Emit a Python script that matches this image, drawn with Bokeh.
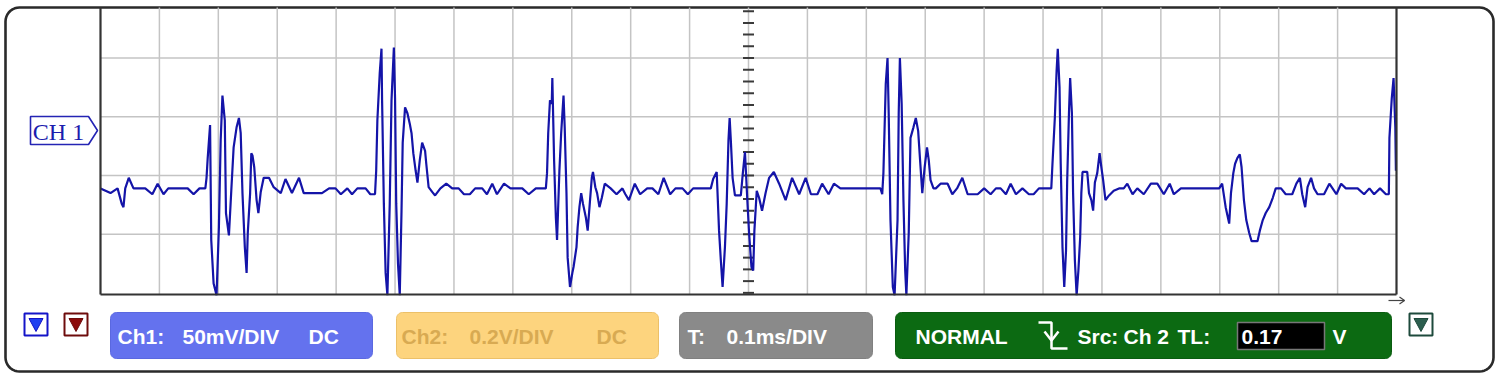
import numpy as np
from bokeh.plotting import figure
from bokeh.models import Range1d
from bokeh.core.properties import value
from bokeh.embed import file_html
from bokeh.resources import INLINE

# ---------------- data: CH1 trace, time in microseconds, voltage in mV ----------------
lead_t = [0, 17, 29, 36, 39, 42, 48, 56, 76, 88, 97, 107, 115, 148, 158, 168, 178]
lead_mv = [-11, -15, -11, -24, -27, -11, -2, -11, -11, -16, -7, -16, -11, -11, -16, -11, -11]

burst1_t = [180, 182, 186, 188, 192, 197, 201, 204, 207, 211, 213, 218, 222, 226, 231, 235, 238, 241,
            245, 248, 250, 254, 256, 258, 261, 265, 268, 272, 277, 286, 294, 306, 314, 325, 337, 345, 362]
burst1_mv = [-2, 15, 43, -55, -92, -102, -44, 30, 68, 47, -32, -51, -13, 24, 41, 49, 36, -15,
             -61, -83, -49, -15, 19, 17, 7, -21, -32, -14, -2, -2, -10, -15, -3, -15, -2, -15, -15]

quiet1_t = [376, 388, 399, 408, 419, 427, 436, 450, 458, 466]
quiet1_mv = [-15, -11, -11, -16, -11, -16, -11, -11, -16, -16]

burst2_t = [468, 470, 474, 477, 478, 481, 484, 487, 491, 494, 498, 500, 502, 505, 508, 511, 513, 517,
            521, 525, 528, 531, 535, 538, 542, 546, 551, 553, 557, 563, 568, 577, 587, 597, 608, 617,
            627, 636, 648, 656, 665, 673, 685, 696, 716, 727, 739, 756]
burst2_mv = [4, 47, 87, 108, 64, -24, -83, -102, -24, 64, 109, 66, -24, -75, -102, -30, 28, 58,
             53, 44, 36, 19, 4, -6, 13, 28, 21, 10, -10, -14, -17, -11, -7, -11, -11, -16,
             -16, -11, -11, -16, -7, -16, -7, -11, -11, -16, -11, -11]

burst3_t = [758, 760, 763, 766, 767, 770, 773, 775, 779, 782, 786, 788, 791, 793, 797, 801, 803, 808,
            810, 813, 816, 819, 824, 827, 831, 834, 836, 840, 843, 847, 851, 856, 866, 876, 886, 891,
            897, 907, 916, 928, 937, 947, 956, 967, 976, 988, 997, 1006, 1036]
burst3_mv = [2, 36, 64, 61, 83, 13, -36, -55, 4, 36, 68, 41, -15, -70, -95, -83, -78, -61,
             -44, -27, -15, -24, -36, -47, -21, -2, 3, -10, -15, -27, -19, -7, -11, -16, -11, -16,
             -21, -7, -16, -11, -11, -16, -2, -16, -11, -11, -16, -11, -11]

burst4_t = [1040, 1046, 1050, 1053, 1056, 1060, 1063, 1066, 1068, 1070, 1073, 1077, 1087, 1090, 1094,
            1098, 1101, 1105, 1108, 1110, 1114, 1118, 1123, 1129, 1135, 1143, 1152, 1163, 1174, 1186,
            1197, 1206, 1217, 1225, 1236, 1245, 1256, 1324, 1327]
burst4_mv = [-3, 3, -47, -72, -95, -61, -24, 30, 49, 30, -2, -17, -17, 0, 20,
             -21, -49, -78, -81, -47, -13, -19, -30, -15, -2, 3, -7, -21, -2, -16,
             -2, -16, -16, -7, -16, -7, -11, -11, -16]

burst5_t = [1329, 1333, 1336, 1338, 1341, 1345, 1348, 1353, 1355, 1357, 1360, 1363, 1366, 1368, 1372,
            1375, 1380, 1384, 1388, 1391, 1395, 1399, 1403, 1406, 1409, 1414, 1418, 1426, 1438, 1446,
            1454, 1463, 1472, 1489, 1500, 1511, 1520, 1528, 1537, 1545, 1554, 1565, 1576, 1584, 1593, 1614]
burst5_mv = [2, 78, 100, 53, -38, -95, -102, -38, 53, 100, 61, -21, -81, -102, -49,
             32, 41, 49, 38, 15, -15, 7, 24, 13, -4, -11, -11, -7, -7, -16,
             -11, -2, -16, -16, -11, -16, -11, -11, -16, -7, -16, -11, -16, -16, -11, -11]

burst6_t = [1616, 1620, 1623, 1625, 1628, 1630, 1633, 1636, 1639, 1641, 1644, 1646, 1649, 1651, 1654,
            1657, 1660, 1663, 1665, 1667, 1675, 1678, 1682, 1685, 1688, 1692, 1696, 1699, 1702, 1706,
            1712, 1720, 1729, 1737, 1743, 1752, 1760, 1771, 1783, 1794, 1805, 1815, 1822, 1834, 1899]
burst6_mv = [10, 49, 89, 108, 75, 10, -61, -95, -64, -4, 53, 83, 53, -15, -72,
             -102, -81, -53, -15, 3, 3, -15, -21, -30, -6, 2, 19, 7, -4, -21,
             -17, -13, -11, -11, -7, -16, -11, -16, -7, -7, -16, -7, -16, -11, -11]

tail_t = [1904, 1910, 1916, 1919, 1923, 1926, 1930, 1934, 1937, 1941, 1945, 1950, 1954, 1964, 1968,
          1973, 1978, 1984, 1990, 1995, 2004, 2012, 2023, 2030, 2036, 2040, 2045, 2049, 2055, 2060,
          2066, 2077, 2086, 2094, 2098, 2106, 2114, 2134, 2145, 2154, 2162, 2172, 2182, 2187, 2188,
          2192, 2195, 2198, 2199]
tail_mv = [-7, -27, -41, -15, 2, 10, 15, 18, 7, -21, -38, -49, -56, -56, -47,
           -38, -32, -27, -19, -11, -11, -16, -16, -7, -2, -16, -27, -10, -2, -11,
           -16, -16, -7, -13, -16, -7, -11, -11, -16, -11, -16, -11, -16, -16, 32,
           66, 83, 41, 4]

t_us = lead_t + burst1_t + quiet1_t + burst2_t + burst3_t + burst4_t + burst5_t + burst6_t + tail_t
v_mv = lead_mv + burst1_mv + quiet1_mv + burst2_mv + burst3_mv + burst4_mv + burst5_mv + burst6_mv + tail_mv

# screen settings
TIME_PER_DIV = 100     # 0.1 ms/DIV
N_XDIV = 22
MV_PER_DIV = 50        # 50 mV/DIV
V_TOP = 143.1
V_BOT = -101.4
grid_t = [TIME_PER_DIV * i for i in range(1, N_XDIV)]
grid_mv = [-50, 0, 50, 100]
minor_mv = list(range(-100, 141, 10))

# ---------------- layout (canvas pixels) ----------------
W, H = 1500, 378
FL, FR, FT, FB = 100, 1396, 7, 294
T_SPAN = TIME_PER_DIV * N_XDIV
sx = T_SPAN / (FR - FL)
sy = (V_TOP - V_BOT) / (FB - FT)

p = figure(width=W, height=H, x_range=Range1d(0, W), y_range=Range1d(H, 0),
           output_backend="svg", toolbar_location=None, min_border=0,
           x_axis_type=None, y_axis_type=None, outline_line_color=None,
           background_fill_color="white", border_fill_color="white")
p.extra_x_ranges = {"t": Range1d(-FL * sx, T_SPAN + (W - FR) * sx)}
p.extra_y_ranges = {"mv": Range1d(V_BOT - (H - FB) * sy, V_TOP + FT * sy)}
p.grid.visible = False


def rrect(x0, y0, x1, y1, r, n=10):
    xs, ys = [], []
    for cx, cy, a0, a1 in [(x1 - r, y0 + r, -90, 0), (x1 - r, y1 - r, 0, 90),
                           (x0 + r, y1 - r, 90, 180), (x0 + r, y0 + r, 180, 270)]:
        a = np.radians(np.linspace(a0, a1, n))
        xs += list(cx + r * np.cos(a))
        ys += list(cy + r * np.sin(a))
    return xs, ys


# outer rounded frame
ox, oy = rrect(5, 7, 1493, 371, 14)
p.patch(ox, oy, fill_color="white", line_color="#2a2a2a", line_width=2.6)

D = dict(x_range_name="t", y_range_name="mv")
# grid
p.segment(x0=grid_t, x1=grid_t, y0=[V_BOT] * len(grid_t), y1=[V_TOP] * len(grid_t),
          line_color="#c4c4c4", line_width=1.5, **D)
p.segment(x0=[0] * len(grid_mv), x1=[T_SPAN] * len(grid_mv), y0=grid_mv, y1=grid_mv,
          line_color="#c4c4c4", line_width=1.5, **D)
# centre minor ticks
tc = T_SPAN / 2
dt = 5.5 * sx
p.segment(x0=[tc - dt] * len(minor_mv), x1=[tc + dt] * len(minor_mv), y0=minor_mv, y1=minor_mv,
          line_color="#3a3a3a", line_width=2, **D)

# trace
p.line(t_us, v_mv, line_color="#1414a8", line_width=2.2, **D)

# screen borders
p.segment(x0=[0, T_SPAN, 0], x1=[0, T_SPAN, T_SPAN], y0=[V_BOT, V_BOT, V_BOT],
          y1=[V_TOP, V_TOP, V_BOT], line_color="#333333", line_width=2.2, **D)

# axis arrow at the end of the time axis
p.line([1388, 1404], [300, 300], line_color="#444444", line_width=1.2)
p.line([1399, 1404, 1399], [296.5, 300, 303.5], line_color="#444444", line_width=1.2)

# CH1 marker
p.patch([30, 88, 97, 88, 30], [116, 116, 130, 144, 144], fill_color="white",
        line_color="#2424b4", line_width=1.6)
p.text(x=[58], y=[131], text=["CH 1"], text_font=value("Liberation Serif"),
       text_font_size="24px", text_color="#1c1cae", text_align="center", text_baseline="middle")


def icon(x0, border, fill):
    p.quad(left=[x0], right=[x0 + 23], top=[313], bottom=[335], fill_color="white",
           line_color=border, line_width=2)
    p.patch([x0 + 4.5, x0 + 18.5, x0 + 11.5], [318, 318, 331], fill_color=fill,
            line_color=border, line_width=1)


icon(24, "#1414c8", "#2040f0")
icon(64, "#6e0c0c", "#8c0a0a")
icon(1409, "#1e4a3c", "#2c5e4e")

# status panels
for (x0, x1, fill, line) in [(110, 372, "#6472ee", "#5a68e0"), (396, 658, "#fdd47e", "#ecc068"),
                             (679, 872, "#8a8a8a", "#808080"), (895, 1391, "#0c6a12", "#0a5c10")]:
    px, py = rrect(x0, 312, x1, 358, 6)
    p.patch(px, py, fill_color=fill, line_color=line, line_width=1)

TF = dict(text_font=value("Liberation Sans"), text_font_style="bold", text_font_size="21px",
          text_baseline="middle", text_align="left")
p.text(x=[117, 182, 308], y=[336] * 3, text=["Ch1:", "50mV/DIV", "DC"], text_color="white", **TF)
p.text(x=[401, 469, 596], y=[336] * 3, text=["Ch2:", "0.2V/DIV", "DC"], text_color="#d8aa52", **TF)
p.text(x=[687, 726], y=[336] * 2, text=["T:", "0.1ms/DIV"], text_color="white", **TF)
p.text(x=[915, 1077, 1123, 1177, 1332], y=[336] * 5, text=["NORMAL", "Src:", "Ch 2", "TL:", "V"],
       text_color="white", **TF)

# trigger level input box
p.quad(left=[1237], right=[1324], top=[322], bottom=[349], fill_color="black",
       line_color="#777777", line_width=1.5)
p.text(x=[1241], y=[336], text=["0.17"], text_color="white", **TF)

# falling-edge trigger symbol
p.line([1038, 1051, 1051, 1067], [322, 322, 348, 348], line_color="white", line_width=2.5)
p.line([1044, 1051, 1058], [331, 340, 331], line_color="white", line_width=2.5)

open("out.html", "w").write(file_html(p, INLINE))
